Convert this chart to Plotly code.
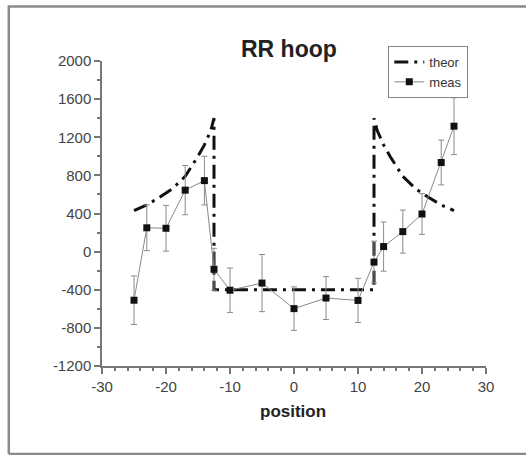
import plotly.graph_objects as go

# Measured data
meas_x = [-25, -23, -20, -17, -14, -12.5, -10, -5, 0, 5, 10, 12.5, 14, 17, 20, 23, 25]
meas_y = [-510, 250, 245, 645, 745, -185, -405, -330, -598, -487, -512, -110, 53, 210, 395, 935, 1316]
meas_err = [255, 240, 240, 258, 255, 220, 233, 300, 228, 225, 232, 220, 258, 226, 214, 235, 298]

# Theoretical curve
theor_x = [-25, -23, -21, -19, -17, -15, -14, -13, -12.5, -12.5, 12.5, 12.5, 13, 14, 15, 17, 19, 21, 23, 25]
theor_y = [430, 490, 570, 660, 790, 1000, 1120, 1270, 1400, -400, -400, 1400, 1270, 1120, 1000, 790, 660, 570, 490, 430]

x_ticks = [-30, -20, -10, 0, 10, 20, 30]
x_ticklabels = ["-30", "-20", "-10", "0", "10", "20", "30"]
y_ticks = [-1200, -800, -400, 0, 400, 800, 1200, 1600, 2000]
y_ticklabels = ["-1200", "-800", "-400", "0", "400", "800", "1200", "1600", "2000"]

fig = go.Figure()
fig.add_trace(go.Scatter(
    x=theor_x, y=theor_y, mode="lines", name="theor",
    line=dict(color="#111111", width=3, dash="14px,6px,3px,6px"),
))
fig.add_trace(go.Scatter(
    x=meas_x, y=meas_y, mode="lines+markers", name="meas",
    line=dict(color="#8a8a8a", width=1),
    marker=dict(symbol="square", size=7, color="#111111"),
    error_y=dict(type="data", array=meas_err, visible=True, color="#8a8a8a", thickness=1, width=3),
))

L, R, T, B = 101.7, 526 - 485.7, 61, 455 - 366
pw, ph = 526 - L - R, 455 - T - B

def px(xp):
    return (xp - L) / pw

def py(yp):
    return (455 - B - yp) / ph

frame_path = "M {:.4f},{:.4f} L {:.4f},{:.4f} L {:.4f},{:.4f} M {:.4f},{:.4f} L {:.4f},{:.4f}".format(
    px(560), py(6.5), px(8.5), py(6.5), px(8.5), py(454), px(8.5), py(454), px(560), py(454)
)

fig.update_layout(
    width=526, height=455,
    margin=dict(l=L, r=R, t=T, b=B),
    paper_bgcolor="white", plot_bgcolor="white",
    font=dict(family="Liberation Sans, Arial, sans-serif", color="#444444", size=15),
    showlegend=True,
    legend=dict(
        x=px(388), y=py(46), xanchor="left", yanchor="top",
        bordercolor="#888888", borderwidth=1, bgcolor="white",
        font=dict(size=13, color="#333333"),
        itemwidth=30, tracegroupgap=0,
    ),
    shapes=[
        dict(type="path", xref="paper", yref="paper", path=frame_path,
             line=dict(color="#8a8a8a", width=2.5), fillcolor="rgba(0,0,0,0)", layer="below"),
    ],
    annotations=[
        dict(text="<b>RR hoop</b>", xref="paper", yref="paper",
             x=px(289), y=py(49), xanchor="center", yanchor="middle",
             showarrow=False, font=dict(size=23, color="#222222")),
        dict(text="<b>position</b>", xref="paper", yref="paper",
             x=px(293), y=py(412), xanchor="center", yanchor="middle",
             showarrow=False, font=dict(size=17, color="#222222")),
    ],
)
fig.update_xaxes(
    range=[-30, 30], tickvals=x_ticks, ticktext=x_ticklabels,
    showgrid=False, zeroline=False, showline=True, linecolor="#777777", linewidth=1.5,
    ticks="outside", ticklen=6, tickwidth=1.5, tickcolor="#777777",
    minor=dict(dtick=2, tick0=0, ticks="outside", ticklen=3, tickwidth=1.5, tickcolor="#777777", showgrid=False),
)
fig.update_yaxes(
    range=[-1200, 2000], tickvals=y_ticks, ticktext=y_ticklabels,
    showgrid=False, zeroline=False, showline=True, linecolor="#777777", linewidth=1.5,
    ticks="outside", ticklen=6, tickwidth=1.5, tickcolor="#777777",
    minor=dict(dtick=200, tick0=0, ticks="outside", ticklen=3, tickwidth=1.5, tickcolor="#777777", showgrid=False),
)

fig.write_html("out.html")
